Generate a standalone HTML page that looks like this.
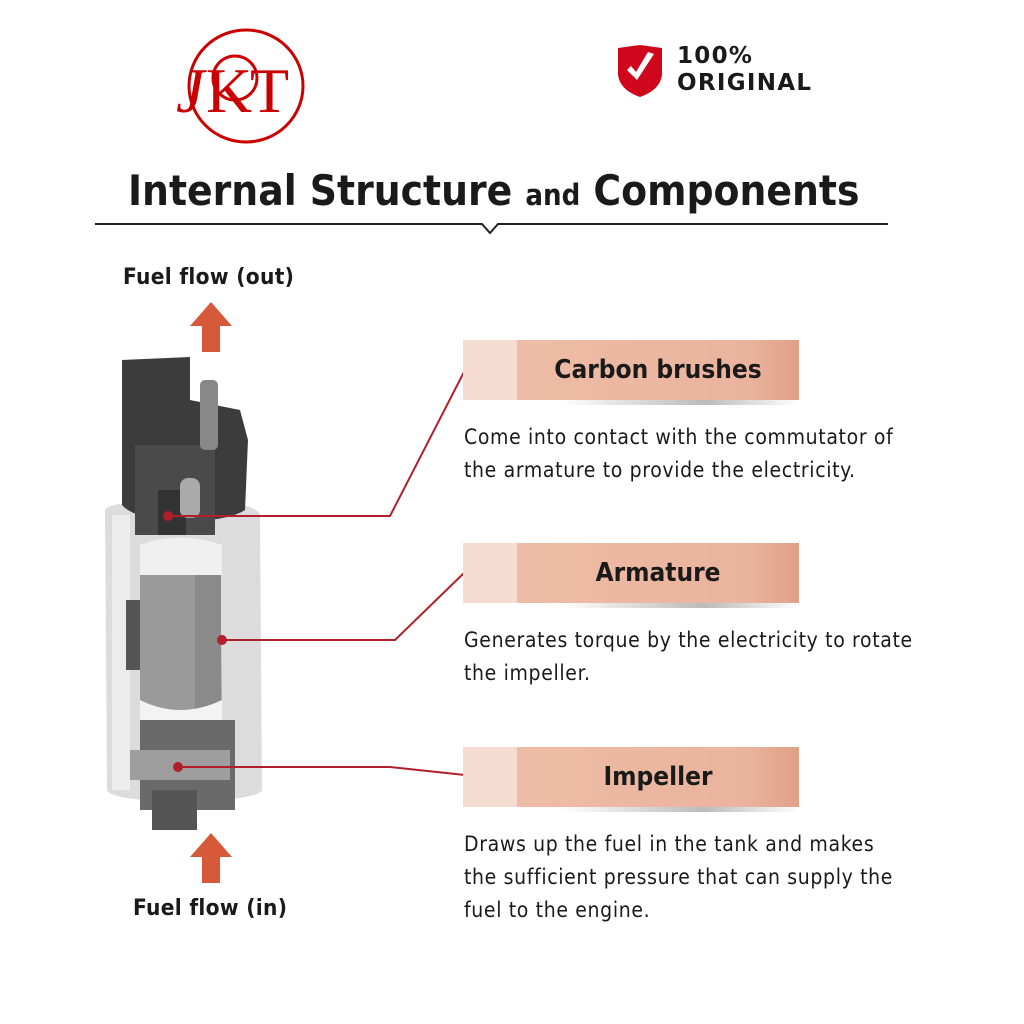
<!DOCTYPE html>
<html><head><meta charset="utf-8"><style>
body{margin:0;width:1024px;height:1024px;background:#fff;position:relative;overflow:hidden;font-family:"DejaVu Sans Condensed","DejaVu Sans","Liberation Sans",sans-serif;}
.t{position:absolute;color:#1a1a1a;white-space:nowrap}
.box{position:absolute;left:463px;width:336px;height:60px;background:linear-gradient(90deg,#f6dcd0 0,#f6dcd0 54px,#eebca6 54px,#eab39d 85%,#e0a088 100%)}
.box span{position:absolute;left:54px;right:0;top:0;line-height:60px;text-align:center;font-weight:bold;font-size:26px;color:#1a1a1a}
.sh{position:absolute;left:560px;width:240px;height:5px;background:linear-gradient(90deg,rgba(200,200,200,0),#bbb 60%,rgba(200,200,200,0))}
.d{font-size:21px;line-height:33px;letter-spacing:0.65px}
</style></head><body>
<svg width="1024" height="1024" style="position:absolute;left:0;top:0">
<ellipse cx="246" cy="86" rx="57" ry="56" fill="none" stroke="#c00" stroke-width="3"/>
<text x="176" y="112" font-family="Liberation Serif" font-size="64" fill="#c00" font-style="italic">J</text>
<text x="206" y="112" font-family="Liberation Serif" font-size="64" fill="#c00">K</text>
<text x="250" y="112" font-family="Liberation Serif" font-size="64" fill="#c00">T</text>
<circle cx="235" cy="78" r="22" fill="none" stroke="#c00" stroke-width="3"/>
<path d="M640 45 L662 48 L662 75 Q660 90 640 97 Q620 90 618 75 L618 48 Z" fill="#d0061c"/>
<path d="M627 70 L637 80 L654 54 L648 52 L636 72 L631 66 Z" fill="#fff"/>
<polyline points="95,224 482,224 490,233 498,224 888,224" fill="none" stroke="#222" stroke-width="2"/>
<path d="M211 302 L232 326 L220 326 L220 352 L202 352 L202 326 L190 326 Z" fill="#d65a3a"/>
<path d="M211 833 L232 857 L220 857 L220 883 L202 883 L202 857 L190 857 Z" fill="#d65a3a"/>
<path d="M105 510 Q110 500 180 502 Q255 500 260 515 L262 790 Q258 800 180 802 Q110 800 107 790 Z" fill="#dcdcdc"/>
<rect x="112" y="515" width="18" height="275" fill="#ececec"/>
<path d="M122 360 L190 357 L190 400 L240 410 L248 440 L245 510 Q230 520 185 522 Q135 520 122 505 Z" fill="#3c3c3c"/>
<rect x="135" y="445" width="80" height="90" fill="#4a4a4a"/>
<rect x="200" y="380" width="18" height="70" rx="5" fill="#888"/>
<rect x="158" y="490" width="28" height="45" fill="#333"/>
<rect x="180" y="478" width="20" height="40" rx="8" fill="#aaa"/>
<path d="M140 545 L220 545 L222 720 L140 720 Z" fill="#9a9a9a"/>
<rect x="126" y="600" width="14" height="70" fill="#555"/>
<path d="M140 545 Q180 530 222 545 L222 575 L140 575 Z" fill="#f0f0f0"/>
<rect x="195" y="575" width="26" height="140" fill="#8a8a8a"/>
<path d="M140 700 Q180 720 222 700 L222 740 L140 740 Z" fill="#f3f3f3"/>
<rect x="140" y="720" width="95" height="90" fill="#6a6a6a"/>
<rect x="130" y="750" width="100" height="30" fill="#9e9e9e"/>
<rect x="152" y="790" width="45" height="40" fill="#555"/>
<rect x="175" y="800" width="12" height="30" fill="#555"/>
<g stroke="#b0202a" stroke-width="2" fill="none">
<polyline points="168,516 390,516 465,370"/>
<polyline points="222,640 395,640 465,572"/>
<polyline points="178,767 390,767 465,775"/>
</g>
<g fill="#b0202a"><circle cx="168" cy="516" r="5"/><circle cx="222" cy="640" r="5"/><circle cx="178" cy="767" r="5"/></g>
</svg>
<div class="t" style="left:677px;top:43px;font-family:'DejaVu Sans','Liberation Sans',sans-serif;font-weight:bold;font-size:23px;line-height:27px;letter-spacing:1.3px">100%<br>ORIGINAL</div>
<div class="t" style="left:128px;top:166px;font-weight:bold;font-size:42px;letter-spacing:0px">Internal Structure <span style="font-size:29px">and</span> Components</div>
<div class="t" style="left:123px;top:264px;font-weight:bold;font-size:22.5px;letter-spacing:0.3px">Fuel flow (out)</div>
<div class="t" style="left:133px;top:895px;font-weight:bold;font-size:22.5px;letter-spacing:0.3px">Fuel flow (in)</div>
<div class="box" style="top:340px"><span>Carbon brushes</span></div><div class="sh" style="top:400px"></div>
<div class="box" style="top:543px"><span>Armature</span></div><div class="sh" style="top:603px"></div>
<div class="box" style="top:747px"><span>Impeller</span></div><div class="sh" style="top:807px"></div>
<div class="t d" style="left:464px;top:421px">Come into contact with the commutator of<br>the armature to provide the electricity.</div>
<div class="t d" style="left:464px;top:624px">Generates torque by the electricity to rotate<br>the impeller.</div>
<div class="t d" style="left:464px;top:828px">Draws up the fuel in the tank and makes<br>the sufficient pressure that can supply the<br>fuel to the engine.</div>
</body></html>
